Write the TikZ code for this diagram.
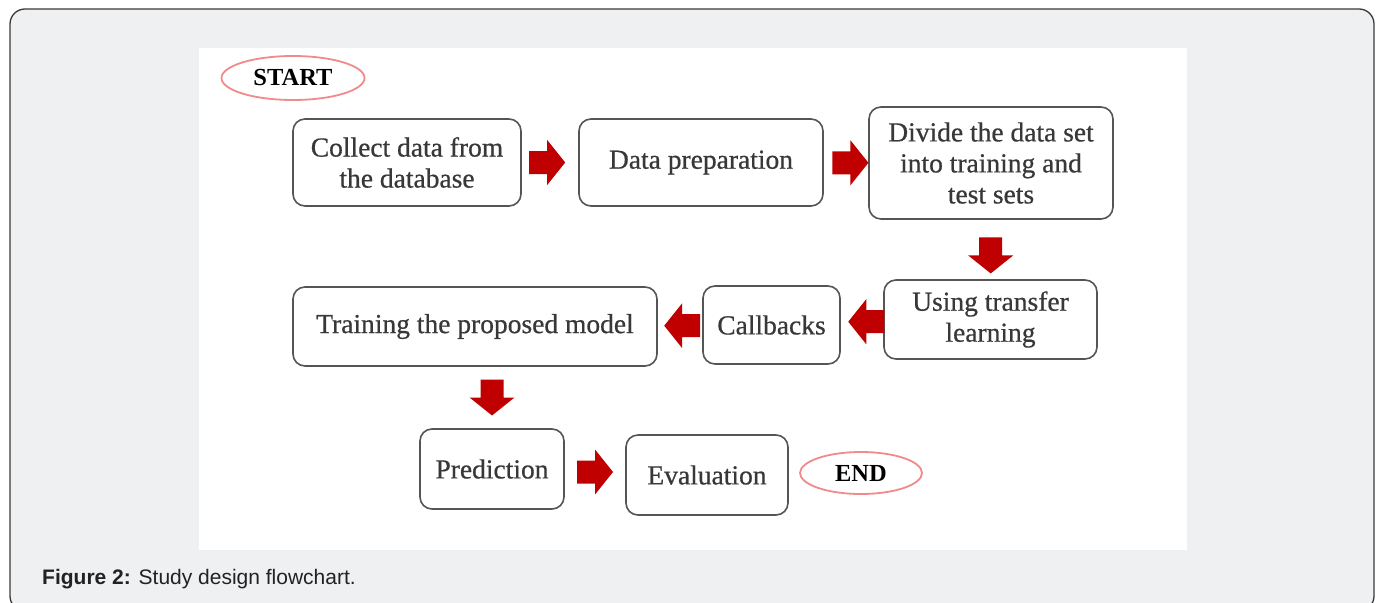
\documentclass[tikz,border=0pt]{standalone}
\usepackage{fontspec}
\setmainfont{Liberation Serif}
\newfontfamily\boxfont[FakeBold=0.6]{Liberation Serif}
\newfontfamily\capfont{Liberation Sans}
\usetikzlibrary{shapes.geometric,calc}
\definecolor{framebg}{HTML}{EFF0F2}
\definecolor{frameline}{HTML}{3A3A3A}
\definecolor{boxline}{HTML}{555555}
\definecolor{boxtext}{HTML}{383838}
\definecolor{arrowred}{HTML}{C00000}
\definecolor{ovalline}{HTML}{F28A8C}
\definecolor{captext}{HTML}{222222}
\tikzset{
  stepbox/.style={draw=boxline, line width=1.6pt, rounded corners=12pt, fill=white,
    align=center, text=boxtext, font=\boxfont\fontsize{27.5}{31}\selectfont, inner sep=0pt},
  terminal/.style={ellipse, draw=ovalline, line width=1.8pt, inner sep=0pt,
    font=\fontsize{24.5}{28}\selectfont\bfseries, text=black},
  pics/blockarrow/.style={code={
    \fill[arrowred] (-18,-11.5) -- (0,-11.5) -- (0,-22.5) -- (18,0) -- (0,22.5) -- (0,11.5) -- (-18,11.5) -- cycle;}}
}
\begin{document}
\begin{tikzpicture}[x=1pt,y=-1pt]
\useasboundingbox (0,0) rectangle (1380,602);
\begin{scope}
  \clip (0,0) rectangle (1380,602);
  \draw[frameline, fill=framebg, line width=1.3pt, rounded corners=15pt] (10,9) rectangle (1374,611);
\end{scope}
\fill[white] (199,48) rectangle (1187,550);

\node[terminal, minimum width=143pt, minimum height=44pt] (start) at (293,78) {START};
\node[stepbox, minimum width=228pt, minimum height=87pt] (b1) at (407,162.5) {Collect data from\\the database};
\node[stepbox, minimum width=244pt, minimum height=87pt] (b2) at (701,162.5) {Data preparation};
\node[stepbox, minimum width=244pt, minimum height=112pt] (b3) at (991,163) {Divide the data set\\into training and\\test sets};
\node[stepbox, minimum width=213pt, minimum height=79pt] (b4) at (990.5,319.5) {Using transfer\\learning};
\node[stepbox, minimum width=137pt, minimum height=78pt] (b5) at (771.5,325) {Callbacks};
\node[stepbox, minimum width=364pt, minimum height=79pt] (b6) at (475,326.5) {Training the proposed model};
\node[stepbox, minimum width=144pt, minimum height=80pt] (b7) at (492,469) {Prediction};
\node[stepbox, minimum width=162pt, minimum height=80pt] (b8) at (707,475) {Evaluation};
\node[terminal, minimum width=122pt, minimum height=42pt] (end) at (861,473) {END};

\pic at ($(b1.east)!0.45!(b2.west)$) {blockarrow};
\pic at ($(b2.east)!0.6!(b3.west)$) {blockarrow};
\pic[rotate=-90] at ($(b3.south)!0.6!(b4.north)$) {blockarrow};
\pic[rotate=180] at ($(b4.west)!0.4!(b5.east)$) {blockarrow};
\pic[rotate=180] at ($(b5.west)!0.45!(b6.east)$) {blockarrow};
\pic[rotate=-90] at ($(b6.south -| b7.north)!0.5!(b7.north)$) {blockarrow};
\pic at ($(b7.east)!0.5!(b8.west)$) {blockarrow};

\node[anchor=base west, inner sep=0pt, text=captext, font=\capfont\fontsize{21}{25}\selectfont] (cap) at (42,584) {\textbf{Figure 2:} Study design flowchart.};
\end{tikzpicture}
\end{document}
